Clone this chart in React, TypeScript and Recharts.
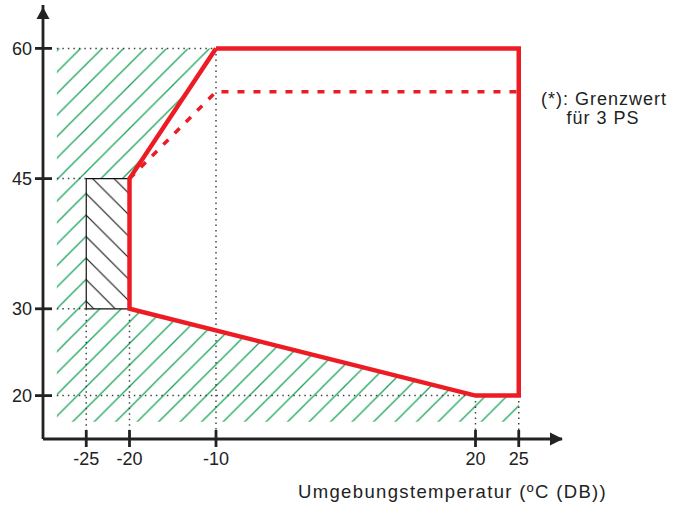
import React from "react";
import {
  ComposedChart,
  Line,
  Area,
  XAxis,
  YAxis,
  ReferenceLine,
  ReferenceArea,
  ReferenceDot,
} from "recharts";

// Achsen
const xTicks = [-25, -20, -10, 20, 25];
const yTicks = [20, 30, 45, 60];

// Betriebsgrenze (rot, durchgezogen)
const limitX = [-10, 25, 25, 20, -20, -20, -10];
const limitY = [60, 60, 20, 20, 30, 45, 60];

// Grenzwert für 3 PS (rot, gestrichelt)
const psX = [-20, -10, 25];
const psY = [45, 55, 55];

// schraffierte Bereiche (grün)
const upperX = [-28.4, -20, -20, -10];
const upperLo = [30, 30, 45, 60];
const upperHi = [60, 60, 60, 60];
const lowerX = [-28.4, -20, 20, 25];
const lowerLo = [17, 17, 17, 17];
const lowerHi = [30, 30, 20, 20];

// gepunktete Hilfslinien [x1, y1, x2, y2]
const guides = [
  [-28.4, 60, -10, 60],
  [-28.4, 45, -25, 45],
  [-28.4, 30, -25, 30],
  [-28.4, 20, 20, 20],
  [-25, 30, -25, 15],
  [-20, 30, -20, 15],
  [-10, 60, -10, 15],
  [20, 20, 20, 15],
  [25, 20, 25, 15],
];

const limitData = limitX.map((x, i) => ({ x, y: limitY[i] }));
const psData = psX.map((x, i) => ({ x, y: psY[i] }));
const upperData = upperX.map((x, i) => ({ x, band: [upperLo[i], upperHi[i]] }));
const lowerData = lowerX.map((x, i) => ({ x, band: [lowerLo[i], lowerHi[i]] }));

const RED = "#ed1c24";
const GREEN = "#19a35a";
const AXIS = "#222";
const FONT = "'Liberation Sans', Arial, sans-serif";
const H = 21.5;

const XTick = (props: any) => {
  const { x, y, payload } = props;
  return (
    <g>
      <line x1={x} x2={x} y1={y - 9} y2={y + 8} stroke={AXIS} strokeWidth={2.8} />
      <text x={x} y={y + 26} textAnchor="middle" fontSize={18} fill="#222" fontFamily={FONT}>
        {payload.value}
      </text>
    </g>
  );
};

const YTick = (props: any) => {
  const { x, y, payload } = props;
  return (
    <g>
      <line x1={x - 8} x2={x + 9} y1={y} y2={y} stroke={AXIS} strokeWidth={2.8} />
      <text x={x - 11} y={y + 6.5} textAnchor="end" fontSize={18} fill="#222" fontFamily={FONT}>
        {payload.value}
      </text>
    </g>
  );
};

const App = () => {
  return (
    <div style={{ position: "absolute", left: 0, top: 0, width: 677, height: 509, background: "#fff" }}>
      <ComposedChart width={677} height={509} margin={{ top: 5, right: 115, bottom: 69, left: 42 }}>
        <defs>
          <pattern id="greenHatch" width={H} height={H} patternUnits="userSpaceOnUse">
            <path
              d={`M0,${H} L${H},0 M-2,2 L2,-2 M${H - 2},${H + 2} L${H + 2},${H - 2}`}
              stroke={GREEN}
              strokeWidth={1.3}
            />
          </pattern>
          <pattern id="blackHatch" width={H} height={H} patternUnits="userSpaceOnUse">
            <rect width={H} height={H} fill="#fff" />
            <path
              d={`M0,0 L${H},${H} M-2,${H - 2} L2,${H + 2} M${H - 2},-2 L${H + 2},2`}
              stroke="#111"
              strokeWidth={1.1}
            />
          </pattern>
        </defs>
        <XAxis
          type="number"
          dataKey="x"
          domain={[-30, 30]}
          ticks={xTicks}
          interval={0}
          allowDataOverflow
          height={1}
          tickSize={0}
          tickMargin={0}
          tickLine={false}
          axisLine={{ stroke: AXIS, strokeWidth: 2.8 }}
          tick={<XTick />}
        />
        <YAxis
          type="number"
          domain={[15, 65]}
          ticks={yTicks}
          interval={0}
          allowDataOverflow
          width={1}
          tickSize={0}
          tickMargin={0}
          tickLine={false}
          axisLine={{ stroke: AXIS, strokeWidth: 2.8 }}
          tick={<YTick />}
        />
        <Area
          data={upperData}
          dataKey="band"
          type="linear"
          stroke="none"
          fill="url(#greenHatch)"
          fillOpacity={1}
          dot={false}
          activeDot={false}
          isAnimationActive={false}
        />
        <Area
          data={lowerData}
          dataKey="band"
          type="linear"
          stroke="none"
          fill="url(#greenHatch)"
          fillOpacity={1}
          dot={false}
          activeDot={false}
          isAnimationActive={false}
        />
        {guides.map((g, i) => (
          <ReferenceLine
            key={i}
            segment={[
              { x: g[0], y: g[1] },
              { x: g[2], y: g[3] },
            ]}
            stroke="#444"
            strokeWidth={1.5}
            strokeDasharray="1.5 4"
          />
        ))}
        <ReferenceArea
          x1={-25}
          x2={-20}
          y1={30}
          y2={45}
          fill="url(#blackHatch)"
          fillOpacity={1}
          stroke="#111"
          strokeWidth={1.2}
        />
        <Line
          data={psData}
          dataKey="y"
          type="linear"
          stroke={RED}
          strokeWidth={3.5}
          strokeDasharray="7 9"
          dot={false}
          activeDot={false}
          isAnimationActive={false}
        />
        <Line
          data={limitData}
          dataKey="y"
          type="linear"
          stroke={RED}
          strokeWidth={4.5}
          strokeLinejoin="miter"
          dot={false}
          activeDot={false}
          isAnimationActive={false}
        />
        <ReferenceDot
          x={30}
          y={15}
          ifOverflow="visible"
          shape={(p: any) => (
            <polygon
              points={`${p.cx + 1},${p.cy} ${p.cx - 12},${p.cy - 6.5} ${p.cx - 12},${p.cy + 6.5}`}
              fill={AXIS}
            />
          )}
        />
        <ReferenceDot
          x={-30}
          y={65}
          ifOverflow="visible"
          shape={(p: any) => (
            <polygon
              points={`${p.cx},${p.cy + 2} ${p.cx - 6.5},${p.cy + 14} ${p.cx + 6.5},${p.cy + 14}`}
              fill={AXIS}
            />
          )}
        />
      </ComposedChart>
      <svg
        width={677}
        height={509}
        style={{ position: "absolute", left: 0, top: 0, pointerEvents: "none" }}
      >
        <text x={604} y={105} textAnchor="middle" fontSize={18} letterSpacing={1} fill="#222" fontFamily={FONT}>
          (*): Grenzwert
        </text>
        <text x={603} y={124} textAnchor="middle" fontSize={18} letterSpacing={1} fill="#222" fontFamily={FONT}>
          für 3 PS
        </text>
        <text x={298} y={498} fontSize={18.5} letterSpacing={1.35} fill="#222" fontFamily={FONT}>
          Umgebungstemperatur (ºC (DB))
        </text>
      </svg>
    </div>
  );
};

export default App;
